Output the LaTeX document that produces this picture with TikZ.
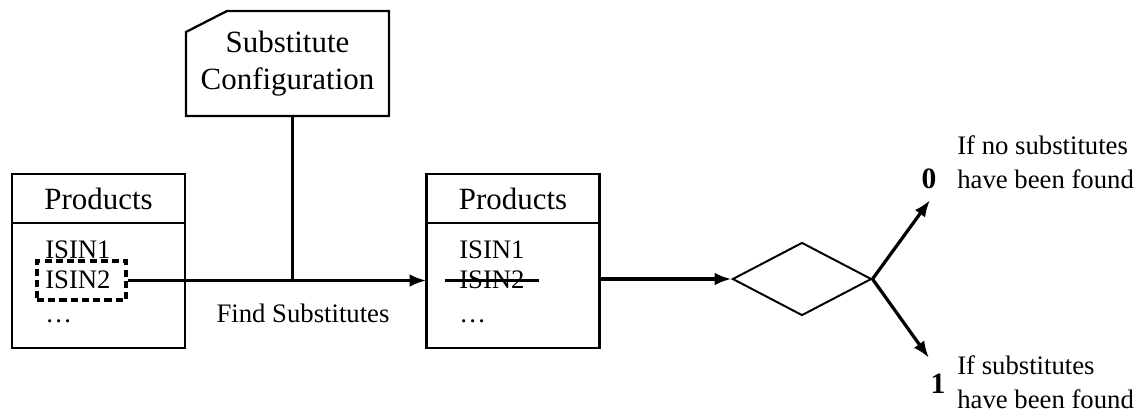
\documentclass[tikz,border=0pt]{standalone}
\usepackage{fontspec}
\setmainfont{Liberation Serif}
\usetikzlibrary{positioning,shapes.geometric,arrows.meta}

\begin{document}
\begin{tikzpicture}[x=0.025cm,y=-0.025cm,
    head/.style={rectangle,draw,line width=1.6pt,outer sep=0pt,inner sep=0pt,
        minimum width=4.325cm,minimum height=1.225cm,font=\fontsize{22}{26}\selectfont},
    body/.style={rectangle,draw,line width=1.6pt,outer sep=0pt,inner sep=0pt,
        minimum width=4.325cm,minimum height=3.125cm},
    item/.style={anchor=base west,inner sep=0pt,font=\fontsize{19}{23}\selectfont},
    conftext/.style={rectangle,inner sep=0pt,outer sep=0pt,minimum width=5.075cm,
        minimum height=2.625cm,align=center,font=\fontsize{22}{26.5}\selectfont},
    decision/.style={diamond,draw,line width=1.4pt,inner sep=0pt,
        minimum width=3.475cm,minimum height=1.825cm},
    selbox/.style={rectangle,draw,dash pattern=on 5pt off 3pt,line width=2.3pt,inner sep=0pt,
        minimum width=2.225cm,minimum height=0.975cm},
    note/.style={inner sep=0pt,align=left,font=\fontsize{19}{23.5}\selectfont},
    flow/.style={line width=2.3pt,-{Latex[length=12pt,width=9pt]}}]

    \useasboundingbox (0,0) rectangle (1142,417);

    % configuration box on top, with its cut corner
    \node[conftext] (conf) at (287.5,63.5) {Substitute\\Configuration};
    \draw[line width=1.6pt] (conf.south west) -- (conf.south east) -- (conf.north east)
        -- ([shift={(41,0)}]conf.north west) -- ([shift={(0,21)}]conf.north west) -- cycle;

    % first product list
    \node[head] (hd1) at (98.5,198.5) {Products};
    \node[body,below=0pt of hd1] (bd1) {};
    \node[item] (isin11) at (45,258) {ISIN1};
    \node[item] (isin12) at (45,288) {ISIN2};
    \node[item] (dots1) at (45,322) {\dots};
    \node[selbox] (sel) at (81.5,280.5) {};

    % second product list
    \node[head] (hd2) at (513,198.5) {Products};
    \node[body,below=0pt of hd2] (bd2) {};
    \node[item] (isin21) at (459,258) {ISIN1};
    \node[item] (isin22) at (459,288) {ISIN2};
    \node[item] (dots2) at (459,322) {\dots};
    \draw[line width=2pt] ([xshift=-10pt,yshift=5.5pt]isin22.base west) -- ([xshift=10pt,yshift=5.5pt]isin22.base east);

    \node[font=\fontsize{19}{23}\selectfont,anchor=base,inner sep=0pt] (find) at (303,322) {Find Substitutes};

    % decision
    \node[decision] (dec) at (802,279) {};
    \coordinate (no) at (930,200);
    \coordinate (yes) at (929,358);

    \draw[flow] (sel.east) -- (sel.east -| bd2.west);
    \draw[line width=2.3pt] ([xshift=3.5pt]conf.south) -- ([xshift=3.5pt]conf.south |- sel.east);
    \draw[flow] (dec.west -| bd2.east) -- (dec.west);
    \draw[flow] (dec.east) -- (no);
    \draw[flow] (dec.east) -- (yes);

    % outcomes
    \node[anchor=base,inner sep=0pt,font=\fontsize{21}{24}\bfseries] (zero) at (929,188) {0};
    \node[note,anchor=base west] (nolbl) at (957,188) {If no substitutes\\have been found};
    \node[anchor=base,inner sep=0pt,font=\fontsize{21}{24}\bfseries] (one) at (938,393) {1};
    \node[note,anchor=base west] (yeslbl) at (957,408) {If substitutes\\have been found};

\end{tikzpicture}
\end{document}
